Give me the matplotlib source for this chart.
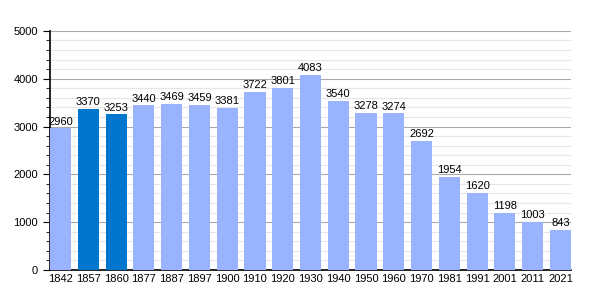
import matplotlib.pyplot as plt
from matplotlib.ticker import MultipleLocator

years = ['1842', '1857', '1860', '1877', '1887', '1897', '1900', '1910', '1920', '1930',
         '1940', '1950', '1960', '1970', '1981', '1991', '2001', '2011', '2021']
population = [2960, 3370, 3253, 3440, 3469, 3459, 3381, 3722, 3801, 4083,
              3540, 3278, 3274, 2692, 1954, 1620, 1198, 1003, 843]
highlight = ['1857', '1860']

light = '#99b3ff'
dark = '#0077cc'

plt.rcParams['font.family'] = ['Liberation Sans', 'DejaVu Sans']

fig = plt.figure(figsize=(6, 3), dpi=100)
ax = fig.add_axes([0.0833, 0.1, 0.8684, 0.797])

x = list(range(len(years)))
colors = [dark if y in highlight else light for y in years]
w = 0.76
ax.bar(x, population, width=w, color=colors, zorder=3)

for xi, v in zip(x, population):
    ax.text(xi, v + 40, str(v), ha='center', va='bottom', fontsize=8, zorder=4)

ax.set_xlim(-w / 2, len(years) - 1 + w / 2)
ax.set_ylim(0, 5000)
ax.set_xticks(x)
ax.set_xticklabels(years, fontsize=8)
ax.yaxis.set_major_locator(MultipleLocator(1000))
ax.yaxis.set_minor_locator(MultipleLocator(200))
ax.tick_params(axis='y', labelsize=8, which='major', length=5)
ax.tick_params(axis='y', which='minor', length=3)
ax.tick_params(axis='x', length=0, pad=3)
ax.grid(axis='y', which='major', color='#aaaaaa', linewidth=0.8, zorder=0)
ax.grid(axis='y', which='minor', color='#e6e6e6', linewidth=0.8, zorder=0)

for s in ['top', 'right']:
    ax.spines[s].set_visible(False)
ax.spines['left'].set_linewidth(1.2)
ax.spines['bottom'].set_linewidth(1.2)

fig.savefig('out.png', dpi=100)
